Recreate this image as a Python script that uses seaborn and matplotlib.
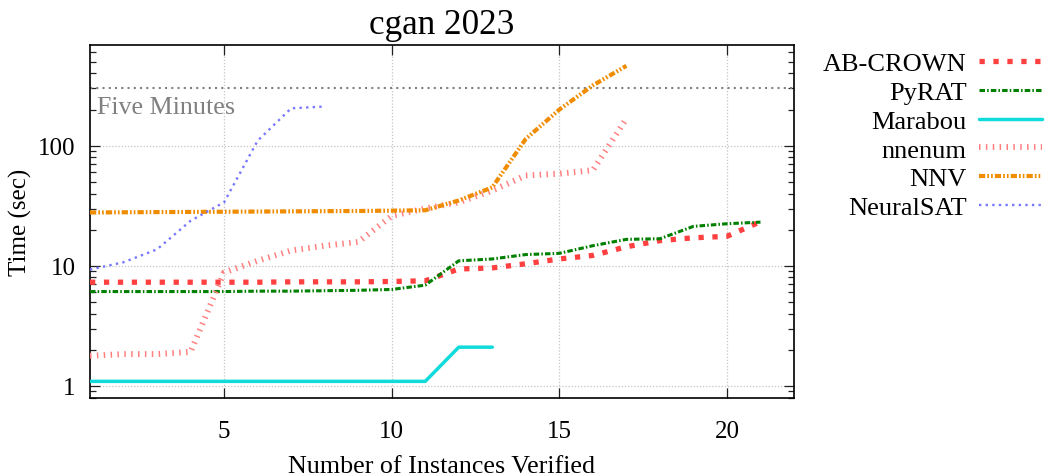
import pandas as pd
import seaborn as sns
import matplotlib.pyplot as plt
from matplotlib.ticker import LogLocator, FixedLocator, NullFormatter, FixedFormatter

# solvers in legend order
solvers = ["AB-CROWN", "PyRAT", "Marabou", "nnenum", "NNV", "NeuralSAT"]

# time (sec) for the n-th verified instance
ab_crown = [7.3, 7.3, 7.3, 7.3, 7.3, 7.3, 7.35, 7.35, 7.35, 7.4, 7.5,
            9.4, 9.6, 10.4, 11.4, 12.2, 14.4, 16.2, 17.1, 17.6, 23.3]
pyrat = [6.1, 6.1, 6.1, 6.1, 6.1, 6.15, 6.15, 6.2, 6.25, 6.35, 6.9,
         11.0, 11.4, 12.4, 12.7, 14.7, 16.6, 16.8, 21.3, 22.4, 23.1]
marabou = [1.09, 1.09, 1.09, 1.09, 1.09, 1.09, 1.09, 1.09, 1.09, 1.09, 1.09,
           2.1, 2.1]
nnenum = [1.78, 1.84, 1.84, 1.92, 8.8, 11.0, 13.4, 14.7, 15.8, 26.0, 30.0,
          33.8, 42.3, 56.5, 58.5, 62.5, 168.0]
nnv = [27.8, 27.9, 28.0, 28.1, 28.2, 28.3, 28.4, 28.5, 28.6, 28.8, 29.0,
       35.0, 45.0, 114.0, 200.0, 318.0, 463.0]
neuralsat = [9.3, 10.7, 13.7, 23.7, 33.8, 110.0, 205.0, 212.0]

five_minutes = 300
x_ticks = [5, 10, 15, 20]
y_ticks = [1, 10, 100]

series = [ab_crown, pyrat, marabou, nnenum, nnv, neuralsat]

# gnuplot-like line styles
colors = ["#ff4040", "#008000", "#10dada", "#ff8080", "#f08c00", "#7878ff"]
widths = [3.8, 2.2, 2.5, 4.3, 3.0, 1.7]
dashes = [(0, (1, 1.64)), (0, (1.8, 0.7, 0.5, 0.7)), "-", (0, (0.25, 0.9)),
          (0, (1.5, 0.5, 0.4, 0.5, 0.4, 0.5)), (0, (1, 1.8))]

rows = []
for name, times in zip(solvers, series):
    for i, t in enumerate(times, start=1):
        rows.append({"Solver": name, "Instances": i, "Time": t})
df = pd.DataFrame(rows)

sns.set_style("ticks", {"text.color": "black", "axes.labelcolor": "black",
                        "xtick.color": "black", "ytick.color": "black"})
serif = ["Liberation Serif", "DejaVu Serif"]
plt.rcParams["font.family"] = serif

fig = plt.figure(figsize=(10.45, 4.77), dpi=100)
ax = fig.add_axes([90 / 1045, 1 - 398.5 / 477, 704 / 1045, 352.5 / 477])

for name, col, lw, ls in zip(solvers, colors, widths, dashes):
    sns.lineplot(data=df[df["Solver"] == name], x="Instances", y="Time",
                 ax=ax, color=col, linewidth=lw, linestyle=ls, label=name,
                 legend=False, dash_capstyle="butt", zorder=3)

ax.axhline(five_minutes, color="#808080", linewidth=1.5,
           linestyle=(0, (1, 2)), zorder=2)
ax.text(1.2, 187, "Five Minutes", color="#808080", fontsize=18.7,
        va="baseline", ha="left")

ax.set_yscale("log")
ax.set_xlim(1, 22)
ax.set_ylim(0.8, 690)

ax.xaxis.set_major_locator(FixedLocator(x_ticks))
ax.yaxis.set_major_locator(FixedLocator(y_ticks))
ax.yaxis.set_major_formatter(FixedFormatter([str(v) for v in y_ticks]))
ax.yaxis.set_minor_locator(LogLocator(base=10, subs=range(2, 10)))
ax.yaxis.set_minor_formatter(NullFormatter())

ax.grid(True, which="major", color="#c4c4c4", linewidth=0.9,
        linestyle=(0, (1, 1.5)))
ax.tick_params(which="both", direction="in", top=True, right=True,
               width=0.9, color="#222222", labelcolor="black")
ax.tick_params(which="major", length=7.2, labelsize=18)
ax.tick_params(which="minor", length=4.3)
ax.tick_params(axis="x", which="major", pad=16)
ax.tick_params(axis="y", which="major", pad=10.5)
for sp in ax.spines.values():
    sp.set_linewidth(1.2)
    sp.set_color("black")

ax.set_xlabel("Number of Instances Verified", fontsize=18.7, labelpad=9.5,
              color="black")
ax.set_ylabel("Time (sec)", fontsize=18, labelpad=4, color="black")
ax.set_title("cgan 2023", fontsize=25.3, pad=8.4, color="black")

handles, labels = ax.get_legend_handles_labels()
fig.legend(handles, labels, loc="upper right",
           bbox_to_anchor=(1042 / 1045, 1 - 53 / 477),
           markerfirst=False, frameon=False, fontsize=19,
           handlelength=2.4, handletextpad=0.45, labelspacing=0.2,
           borderpad=0, borderaxespad=0, labelcolor="black")

fig.savefig("out.png", dpi=100)
